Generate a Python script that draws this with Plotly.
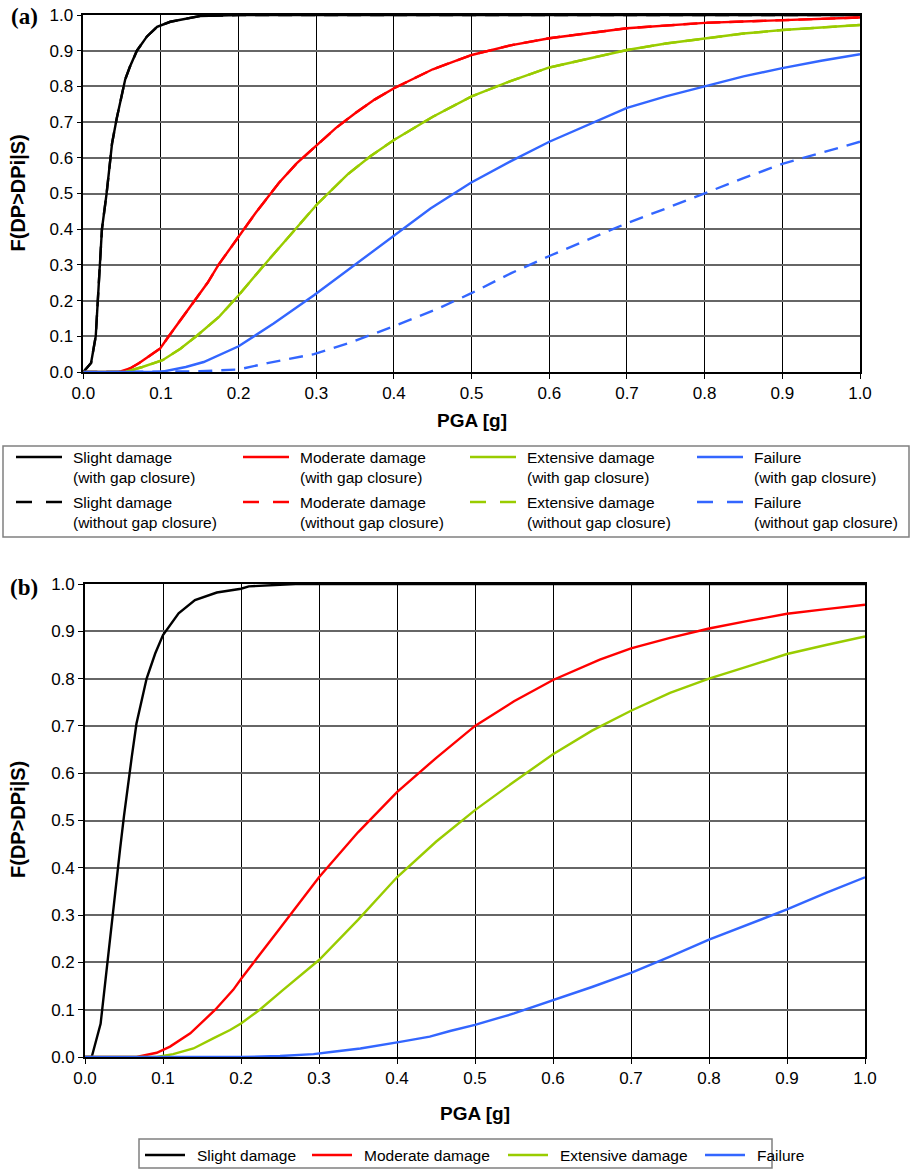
import plotly.graph_objects as go

W, H = 912, 1170

# ---------------- Panel (a) data ----------------
a_slight_x = [0, 0.01, 0.016, 0.02, 0.024, 0.03, 0.037, 0.043, 0.054, 0.06, 0.069, 0.082, 0.095, 0.112, 0.133, 0.15, 0.2, 0.3, 0.5, 0.7, 1.0]
a_slight_y = [0, 0.025, 0.1, 0.25, 0.4, 0.5, 0.64, 0.71, 0.82, 0.855, 0.9, 0.94, 0.967, 0.981, 0.991, 0.997, 1.0, 1.0, 1.0, 1.0, 1.0]

a_mod_x = [0, 0.046, 0.06, 0.072, 0.085, 0.099, 0.11, 0.127, 0.144, 0.16, 0.174, 0.2, 0.222, 0.252, 0.275, 0.3, 0.325, 0.35, 0.375, 0.4, 0.45, 0.5, 0.55, 0.6, 0.665, 0.7, 0.8, 0.9, 1.0]
a_mod_y = [0, 0, 0.01, 0.025, 0.045, 0.066, 0.1, 0.15, 0.2, 0.25, 0.3, 0.38, 0.446, 0.53, 0.585, 0.634, 0.683, 0.725, 0.763, 0.795, 0.848, 0.888, 0.915, 0.935, 0.953, 0.963, 0.978, 0.986, 0.993]

a_ext_x = [0, 0.054, 0.076, 0.102, 0.125, 0.147, 0.175, 0.2, 0.233, 0.271, 0.301, 0.34, 0.37, 0.4, 0.45, 0.5, 0.55, 0.6, 0.665, 0.7, 0.75, 0.8, 0.85, 0.9, 0.95, 1.0]
a_ext_y = [0, 0, 0.014, 0.033, 0.065, 0.103, 0.155, 0.215, 0.30, 0.395, 0.47, 0.553, 0.605, 0.65, 0.715, 0.772, 0.815, 0.853, 0.886, 0.902, 0.92, 0.935, 0.948, 0.958, 0.966, 0.972]

a_fail_x = [0, 0.1, 0.132, 0.155, 0.2, 0.245, 0.297, 0.349, 0.402, 0.447, 0.499, 0.55, 0.6, 0.665, 0.7, 0.75, 0.8, 0.85, 0.9, 0.95, 1.0]
a_fail_y = [0, 0, 0.014, 0.028, 0.072, 0.136, 0.215, 0.30, 0.385, 0.458, 0.53, 0.59, 0.645, 0.708, 0.74, 0.772, 0.80, 0.828, 0.851, 0.872, 0.89]

a_fail_ng_x = [0, 0.1, 0.15, 0.2, 0.237, 0.297, 0.342, 0.402, 0.454, 0.499, 0.551, 0.6, 0.65, 0.698, 0.75, 0.799, 0.85, 0.9, 0.95, 1.0]
a_fail_ng_y = [0, 0, 0.002, 0.007, 0.025, 0.05, 0.081, 0.13, 0.175, 0.22, 0.277, 0.325, 0.37, 0.415, 0.458, 0.5, 0.543, 0.583, 0.615, 0.645]

# ---------------- Panel (b) data ----------------
b_slight_x = [0, 0.0086, 0.02, 0.0286, 0.037, 0.045, 0.05, 0.055, 0.06, 0.066, 0.079, 0.09, 0.1, 0.12, 0.141, 0.169, 0.2, 0.21, 0.233, 0.27, 0.3, 0.5, 1.0]
b_slight_y = [0, 0, 0.07, 0.198, 0.332, 0.44, 0.51, 0.575, 0.635, 0.705, 0.80, 0.853, 0.892, 0.938, 0.966, 0.982, 0.99, 0.995, 0.997, 1.0, 1.0, 1.0, 1.0]

b_mod_x = [0, 0.066, 0.092, 0.1, 0.109, 0.135, 0.167, 0.19, 0.2, 0.25, 0.3, 0.35, 0.4, 0.45, 0.5, 0.55, 0.6, 0.66, 0.7, 0.75, 0.8, 0.85, 0.9, 0.95, 1.0]
b_mod_y = [0, 0, 0.009, 0.015, 0.022, 0.05, 0.10, 0.142, 0.165, 0.272, 0.38, 0.475, 0.56, 0.632, 0.70, 0.752, 0.797, 0.84, 0.864, 0.886, 0.906, 0.922, 0.937, 0.947, 0.956]

b_ext_x = [0, 0.092, 0.113, 0.139, 0.165, 0.186, 0.2, 0.224, 0.254, 0.3, 0.35, 0.4, 0.45, 0.5, 0.55, 0.6, 0.65, 0.7, 0.75, 0.8, 0.85, 0.9, 0.95, 1.0]
b_ext_y = [0, 0, 0.006, 0.018, 0.04, 0.057, 0.071, 0.1, 0.142, 0.205, 0.29, 0.38, 0.455, 0.522, 0.582, 0.64, 0.69, 0.732, 0.77, 0.80, 0.826, 0.852, 0.871, 0.889]

b_fail_x = [0, 0.2, 0.25, 0.293, 0.318, 0.353, 0.404, 0.442, 0.468, 0.5, 0.55, 0.6, 0.65, 0.7, 0.75, 0.8, 0.85, 0.9, 0.95, 1.0]
b_fail_y = [0, 0, 0.002, 0.006, 0.011, 0.018, 0.032, 0.043, 0.055, 0.068, 0.092, 0.12, 0.148, 0.178, 0.212, 0.248, 0.28, 0.312, 0.347, 0.38]

tick_vals = [0.0, 0.1, 0.2, 0.3, 0.4, 0.5, 0.6, 0.7, 0.8, 0.9, 1.0]

names = ["Slight damage", "Moderate damage", "Extensive damage", "Failure"]
colors = ["#000000", "#FF0000", "#99CC00", "#3366FF"]

FONT = "Liberation Sans, Arial, sans-serif"

def px(x):
    return x / W

def py(y):
    return 1 - y / H

fig = go.Figure()

def add(x, y, color, dash, xa, ya, name):
    fig.add_trace(go.Scatter(x=x, y=y, mode="lines", name=name,
                             line=dict(color=color, width=2.4, dash=dash),
                             xaxis=xa, yaxis=ya, showlegend=False, hoverinfo="skip"))

# panel (a): "without gap closure" (dashed) first, the solid ones on top
add(a_slight_x, a_slight_y, colors[0], "14px,9px", "x", "y", names[0] + " (without gap closure)")
add(a_mod_x, a_mod_y, colors[1], "14px,9px", "x", "y", names[1] + " (without gap closure)")
add(a_ext_x, a_ext_y, colors[2], "14px,9px", "x", "y", names[2] + " (without gap closure)")
add(a_fail_ng_x, a_fail_ng_y, colors[3], "14px,9px", "x", "y", names[3] + " (without gap closure)")
add(a_slight_x, a_slight_y, colors[0], "solid", "x", "y", names[0] + " (with gap closure)")
add(a_mod_x, a_mod_y, colors[1], "solid", "x", "y", names[1] + " (with gap closure)")
add(a_ext_x, a_ext_y, colors[2], "solid", "x", "y", names[2] + " (with gap closure)")
add(a_fail_x, a_fail_y, colors[3], "solid", "x", "y", names[3] + " (with gap closure)")

# panel (b)
add(b_slight_x, b_slight_y, colors[0], "solid", "x2", "y2", names[0])
add(b_mod_x, b_mod_y, colors[1], "solid", "x2", "y2", names[1])
add(b_ext_x, b_ext_y, colors[2], "solid", "x2", "y2", names[2])
add(b_fail_x, b_fail_y, colors[3], "solid", "x2", "y2", names[3])

def xaxis_style(domain, anchor):
    return dict(domain=domain, anchor=anchor, range=[0, 1], tickvals=tick_vals,
                tickformat=".1f", showgrid=True, gridcolor="#000000", gridwidth=1,
                showline=True, linecolor="#000000", linewidth=1.6, mirror=True,
                ticks="outside", ticklen=5, tickcolor="#000000", tickwidth=1,
                zeroline=False, fixedrange=True, automargin=False,
                tickfont=dict(family=FONT, size=17, color="#000000"))

def yaxis_style(domain, anchor):
    return dict(domain=domain, anchor=anchor, range=[0, 1], tickvals=tick_vals,
                tickformat=".1f", showgrid=True, gridcolor="#666666", gridwidth=1.6,
                showline=True, linecolor="#000000", linewidth=1.6, mirror=True,
                ticks="outside", ticklen=5, tickcolor="#000000", tickwidth=1,
                zeroline=False, fixedrange=True, automargin=False,
                tickfont=dict(family=FONT, size=17, color="#000000"))

fig.update_layout(
    template="none",
    width=W, height=H, margin=dict(l=0, r=0, t=0, b=0, pad=0, autoexpand=False),
    paper_bgcolor="white", plot_bgcolor="white", showlegend=False,
    xaxis=xaxis_style([px(83.3), px(860)], "y"),
    yaxis=yaxis_style([py(372), py(15)], "x"),
    xaxis2=xaxis_style([px(85), px(865)], "y2"),
    yaxis2=yaxis_style([py(1057), py(584)], "x2"),
)

shapes = []
annotations = []

def text(x, y, s, size, family=FONT, xanchor="center", angle=0, yanchor="middle", align="center"):
    annotations.append(dict(x=px(x), y=py(y), xref="paper", yref="paper", text=s,
                            showarrow=False, xanchor=xanchor, yanchor=yanchor, textangle=angle,
                            align=align,
                            font=dict(family=family, size=size, color="#000000")))

# panel labels
text(24, 17, "<b>(a)</b>", 23, family="Liberation Serif, Times New Roman, serif")
text(24, 587, "<b>(b)</b>", 23, family="Liberation Serif, Times New Roman, serif")

# axis titles
text(471.5, 420, "<b>PGA [g]</b>", 19)
text(475, 1113, "<b>PGA [g]</b>", 19)
text(18, 193.5, "<b>F(DP>DPi|S)</b>", 20, angle=-90)
text(18, 820, "<b>F(DP>DPi|S)</b>", 20, angle=-90)

# legend (a)
shapes.append(dict(type="rect", xref="paper", yref="paper", x0=px(3), x1=px(909), y0=py(446), y1=py(537),
                   line=dict(color="#808080", width=1.5), fillcolor="rgba(0,0,0,0)"))
for i in range(4):
    x0 = 16 + 227 * i
    shapes.append(dict(type="line", xref="paper", yref="paper", x0=px(x0), x1=px(x0 + 46),
                       y0=py(457), y1=py(457), line=dict(color=colors[i], width=2.5)))
    shapes.append(dict(type="line", xref="paper", yref="paper", x0=px(x0), x1=px(x0 + 16),
                       y0=py(502), y1=py(502), line=dict(color=colors[i], width=2.5)))
    shapes.append(dict(type="line", xref="paper", yref="paper", x0=px(x0 + 30), x1=px(x0 + 46),
                       y0=py(502), y1=py(502), line=dict(color=colors[i], width=2.5)))
    text(x0 + 55, 467.5, names[i] + "<br>(with gap closure)", 15.5, xanchor="left", align="left")
    text(x0 + 55, 512, names[i] + "<br>(without gap closure)", 15.5, xanchor="left", align="left")

# legend (b)
shapes.append(dict(type="rect", xref="paper", yref="paper", x0=px(139), x1=px(772), y0=py(1139), y1=py(1168),
                   line=dict(color="#808080", width=1.5), fillcolor="rgba(0,0,0,0)"))
b_leg_x = [145, 312, 508, 705]
for i in range(4):
    x0 = b_leg_x[i]
    shapes.append(dict(type="line", xref="paper", yref="paper", x0=px(x0), x1=px(x0 + 40),
                       y0=py(1155), y1=py(1155), line=dict(color=colors[i], width=2.5)))
    text(x0 + 50, 1155, names[i], 15.5, xanchor="left")

fig.update_layout(shapes=shapes, annotations=annotations)
fig.write_html("out.html", config={"displayModeBar": False},
               post_script="document.body.style.margin='0';document.body.style.padding='0';")
